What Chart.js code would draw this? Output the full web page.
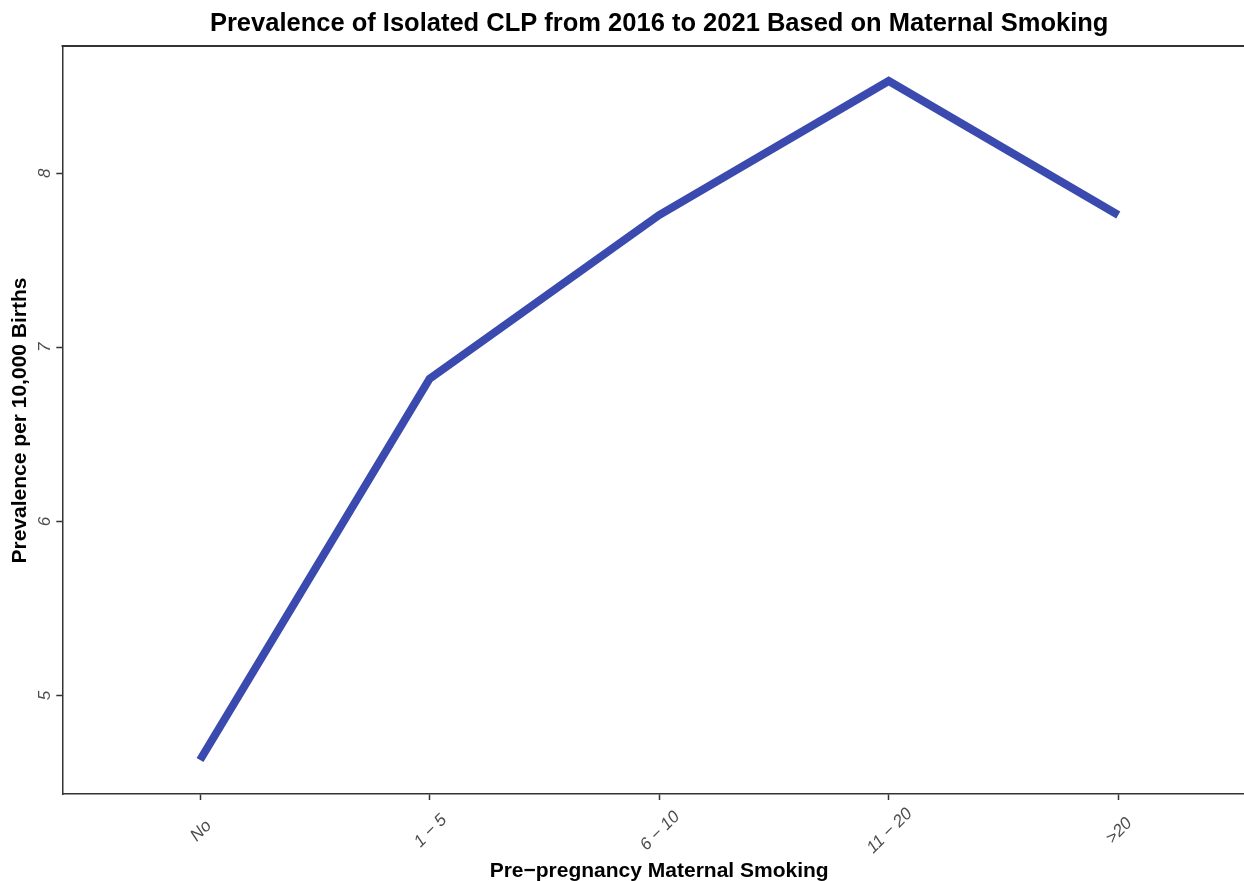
<!DOCTYPE html>
<html>
<head>
<meta charset="utf-8">
<title>Prevalence of Isolated CLP by Maternal Smoking</title>
<script src="https://cdn.jsdelivr.net/npm/chart.js@4/dist/chart.umd.min.js"></script>
<style>
  html, body { margin: 0; padding: 0; background: #ffffff; overflow: hidden; }
  #wrap { width: 1244px; height: 881px; overflow: hidden; }
  canvas { display: block; }
</style>
</head>
<body>
<div id="wrap"><canvas id="chart" width="1260" height="890"></canvas></div>
<script>
// Smoking categories (cigarettes per day before pregnancy)
const categories = ['No', '1 \u2212 5', '6 \u2212 10', '11 \u2212 20', '>20'];
// Prevalence of isolated CLP per 10,000 births
const prevalence = [4.63, 6.82, 7.76, 8.53, 7.76];
// Y axis tick values
const yTicks = [5, 6, 7, 8];

const FONT = '"Liberation Sans", Arial, Helvetica, sans-serif';
const AXIS_COLOR = '#333333';
const TICK_TEXT = '#4d4d4d';

// 5% padding above and below the data range
const lo = Math.min(...prevalence), hi = Math.max(...prevalence);
const pad = (hi - lo) * 0.05;

// Draws the top frame line and the rotated tick labels
const decorations = {
  id: 'decorations',
  afterDraw(chart) {
    const { ctx, chartArea, scales } = chart;
    ctx.save();
    ctx.strokeStyle = AXIS_COLOR;
    ctx.lineWidth = 2;
    ctx.beginPath();
    ctx.moveTo(chartArea.left - 0.75, chartArea.top - 1);
    ctx.lineTo(chartArea.right, chartArea.top - 1);
    ctx.stroke();

    ctx.fillStyle = TICK_TEXT;
    ctx.font = 'italic 17px ' + FONT;
    ctx.textAlign = 'center';
    ctx.textBaseline = 'middle';
    categories.forEach((label, i) => {
      const x = scales.x.getPixelForValue(i);
      ctx.save();
      ctx.translate(x + 1, chartArea.bottom + 37);
      ctx.rotate(-Math.PI / 4);
      ctx.fillText(label, 0, 0);
      ctx.restore();
    });
    yTicks.forEach(v => {
      const y = scales.y.getPixelForValue(v);
      ctx.save();
      ctx.translate(chartArea.left - 17.5, y);
      ctx.rotate(-Math.PI / 2);
      ctx.fillText(String(v), 0, 0);
      ctx.restore();
    });
    ctx.restore();
  }
};

new Chart(document.getElementById('chart'), {
  type: 'line',
  data: {
    datasets: [{
      data: prevalence.map((v, i) => ({ x: i, y: v })),
      borderColor: '#3a4aae',
      borderWidth: 8,
      borderCapStyle: 'butt',
      borderJoinStyle: 'miter',
      tension: 0,
      pointRadius: 0,
      fill: false
    }]
  },
  options: {
    responsive: false,
    animation: false,
    devicePixelRatio: 1,
    layout: { padding: { top: 0, left: 0, right: 4, bottom: 0 } },
    plugins: {
      legend: { display: false },
      tooltip: { enabled: false },
      title: {
        display: true,
        fullSize: false,
        text: 'Prevalence of Isolated CLP from 2016 to 2021 Based on Maternal Smoking',
        color: '#000000',
        font: { family: FONT, size: 25.5, weight: 'bold' },
        padding: { top: 9, bottom: 7.4 }
      }
    },
    scales: {
      x: {
        type: 'linear',
        min: -0.6,
        max: categories.length - 1 + 0.6,
        afterBuildTicks(scale) { scale.ticks = categories.map((c, i) => ({ value: i })); },
        afterFit(scale) { scale.height = 96; },
        ticks: { display: false },
        grid: { display: true, drawOnChartArea: false, drawTicks: true, tickLength: 6, tickColor: AXIS_COLOR, tickWidth: 1.5 },
        border: { display: true, color: AXIS_COLOR, width: 1.5 },
        title: {
          display: true,
          text: 'Pre\u2212pregnancy Maternal Smoking',
          color: '#000000',
          font: { family: FONT, size: 21, weight: 'bold' },
          padding: { top: 0, bottom: 6 }
        }
      },
      y: {
        type: 'linear',
        min: lo - pad,
        max: hi + pad,
        afterBuildTicks(scale) { scale.ticks = yTicks.map(v => ({ value: v })); },
        afterFit(scale) { scale.width = 62.3; },
        ticks: { display: false },
        grid: { display: true, drawOnChartArea: false, drawTicks: true, tickLength: 6, tickColor: AXIS_COLOR, tickWidth: 1.5 },
        border: { display: true, color: AXIS_COLOR, width: 1.5 },
        title: {
          display: true,
          text: 'Prevalence per 10,000 Births',
          color: '#000000',
          font: { family: FONT, size: 21, weight: 'bold' },
          padding: { top: 8, bottom: 0 }
        }
      }
    }
  },
  plugins: [decorations]
});
</script>
</body>
</html>
